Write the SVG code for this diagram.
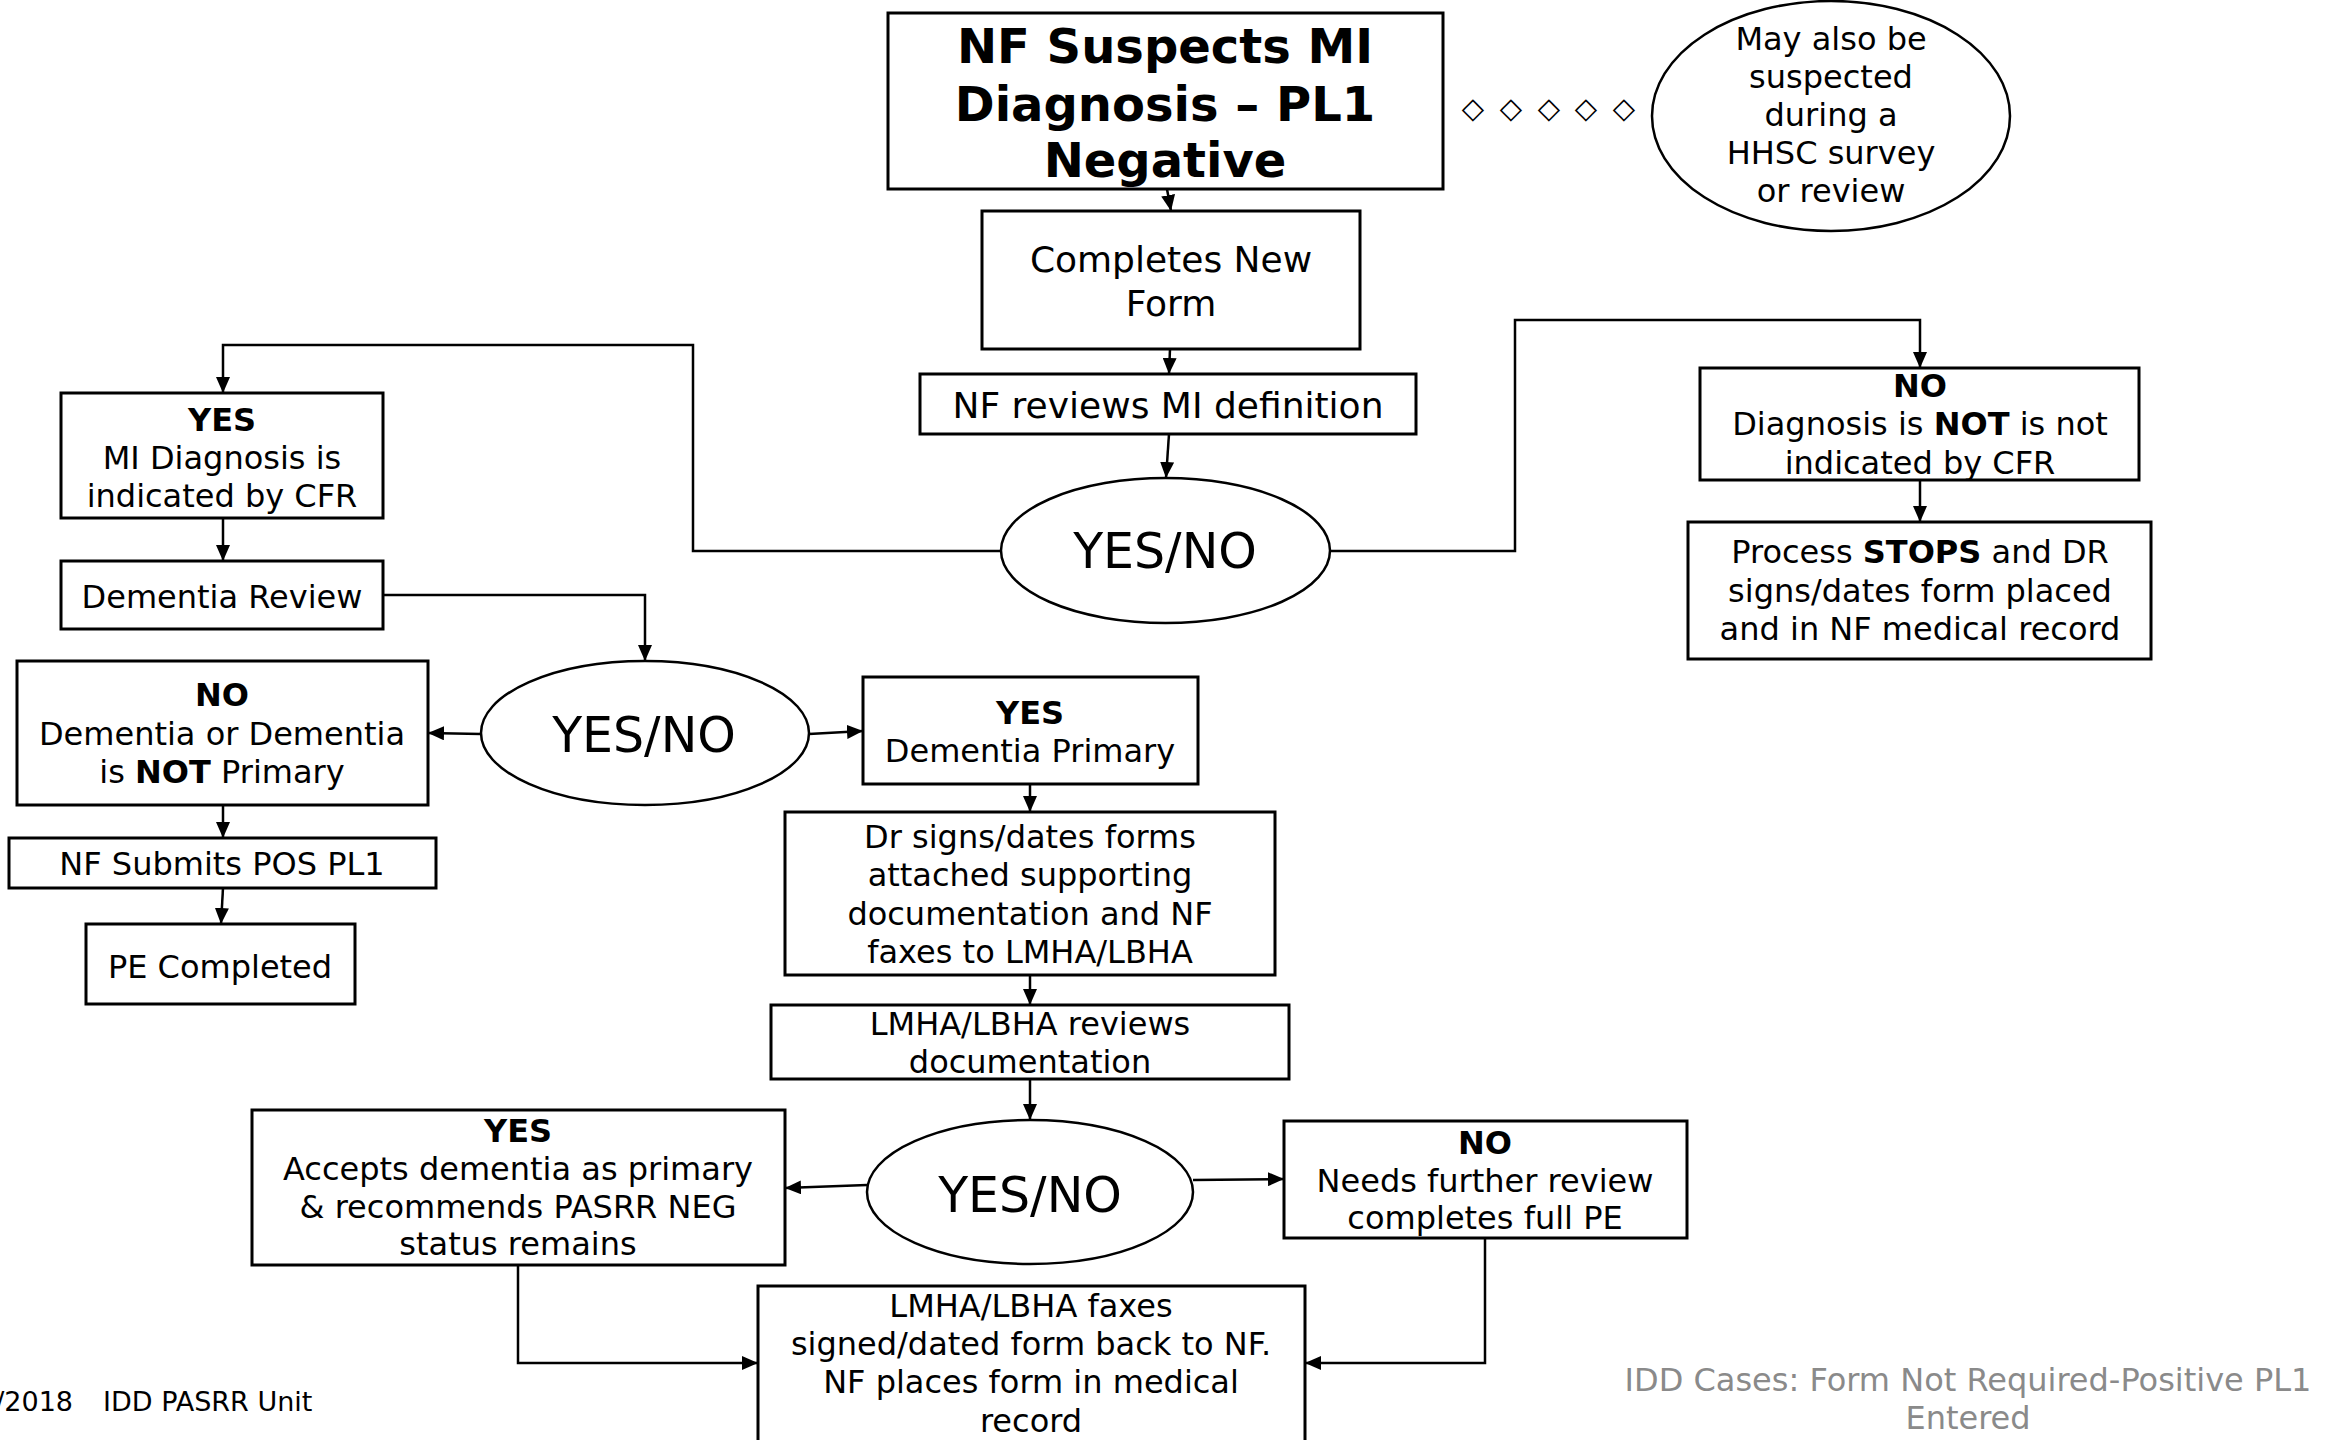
<svg xmlns="http://www.w3.org/2000/svg" width="2328" height="1440" viewBox="0 0 2328 1440">
<style>
text{font-family:"DejaVu Sans",Verdana,sans-serif;fill:#000;text-anchor:middle}
.t{font-size:32px}
.m{font-size:36px}
.yn{font-size:49px}
.b{font-weight:bold}
.box{fill:#fff;stroke:#000;stroke-width:3}
.el{fill:#fff;stroke:#000;stroke-width:2.5}
.c{fill:none;stroke:#000;stroke-width:2.5}
.ft{font-size:32px;fill:#8a8a8a}
</style>
<defs>
<marker id="ah" markerWidth="16" markerHeight="14" refX="16" refY="7" orient="auto" markerUnits="userSpaceOnUse"><path d="M0,0 L16,7 L0,14 z" fill="#000"/></marker>
</defs>
<rect width="2328" height="1440" fill="#fff"/>

<g id="connectors">
<path class="c" d="M1167,189 L1171,211" marker-end="url(#ah)"/>
<path class="c" d="M1170,349 L1169,374" marker-end="url(#ah)"/>
<path class="c" d="M1169,434 L1166,478" marker-end="url(#ah)"/>
<path class="c" d="M1001,551 H693 V345 H223 V393" marker-end="url(#ah)"/>
<path class="c" d="M1330,551 H1515 V320 H1920 V368" marker-end="url(#ah)"/>
<path class="c" d="M1920,480 V522" marker-end="url(#ah)"/>
<path class="c" d="M223,518 V561" marker-end="url(#ah)"/>
<path class="c" d="M383,595 H645 V661" marker-end="url(#ah)"/>
<path class="c" d="M481,734 L428,733" marker-end="url(#ah)"/>
<path class="c" d="M809,734 L863,731" marker-end="url(#ah)"/>
<path class="c" d="M223,805 V838" marker-end="url(#ah)"/>
<path class="c" d="M223,888 L221,924" marker-end="url(#ah)"/>
<path class="c" d="M1030,784 V812" marker-end="url(#ah)"/>
<path class="c" d="M1030,975 V1005" marker-end="url(#ah)"/>
<path class="c" d="M1030,1079 V1120" marker-end="url(#ah)"/>
<path class="c" d="M867,1185 L785,1188" marker-end="url(#ah)"/>
<path class="c" d="M1193,1180 L1284,1179" marker-end="url(#ah)"/>
<path class="c" d="M518,1265 V1363 H758" marker-end="url(#ah)"/>
<path class="c" d="M1485,1238 V1363 H1305" marker-end="url(#ah)"/>
<g id="diamonds" style="font-size:29px">
<text x="1473" y="118">◇</text>
<text x="1511" y="118">◇</text>
<text x="1549" y="118">◇</text>
<text x="1586" y="118">◇</text>
<text x="1624" y="118">◇</text>
</g>
</g>

<g id="n-title">
<rect class="box" x="888" y="13" width="555" height="176"/>
<text class="b" style="font-size:48px" x="1165" y="63">NF Suspects MI</text>
<text class="b" style="font-size:48px" x="1165" y="121">Diagnosis – PL1</text>
<text class="b" style="font-size:48px" x="1165" y="177">Negative</text>
</g>

<g id="n-survey">
<ellipse class="el" cx="1831" cy="116" rx="179" ry="115"/>
<text class="t" x="1831" y="50">May also be</text>
<text class="t" x="1831" y="88">suspected</text>
<text class="t" x="1831" y="126">during a</text>
<text class="t" x="1831" y="164">HHSC survey</text>
<text class="t" x="1831" y="202">or review</text>
</g>

<g id="n-completes">
<rect class="box" x="982" y="211" width="378" height="138"/>
<text class="m" x="1171" y="272">Completes New</text>
<text class="m" x="1171" y="316">Form</text>
</g>

<g id="n-reviews">
<rect class="box" x="920" y="374" width="496" height="60"/>
<text class="m" x="1168" y="418">NF reviews MI definition</text>
</g>

<g id="n-yn1">
<ellipse class="el" cx="1165.5" cy="550.5" rx="164.5" ry="72.5"/>
<text class="yn" x="1165" y="568">YES/NO</text>
</g>

<g id="n-yes-mi">
<rect class="box" x="61" y="393" width="322" height="125"/>
<text class="t b" x="222" y="431">YES</text>
<text class="t" x="222" y="469">MI Diagnosis is</text>
<text class="t" x="222" y="507">indicated by CFR</text>
</g>

<g id="n-dementia-review">
<rect class="box" x="61" y="561" width="322" height="68"/>
<text class="t" x="222" y="608">Dementia Review</text>
</g>

<g id="n-yn2">
<ellipse class="el" cx="645" cy="733" rx="164" ry="72"/>
<text class="yn" x="644" y="752">YES/NO</text>
</g>

<g id="n-no-dementia">
<rect class="box" x="17" y="661" width="411" height="144"/>
<text class="t b" x="222" y="706">NO</text>
<text class="t" x="222" y="745">Dementia or Dementia</text>
<text class="t" x="222" y="783">is <tspan class="b">NOT</tspan> Primary</text>
</g>

<g id="n-submits">
<rect class="box" x="9" y="838" width="427" height="50"/>
<text class="t" x="222" y="875">NF Submits POS PL1</text>
</g>

<g id="n-pe">
<rect class="box" x="86" y="924" width="269" height="80"/>
<text class="t" x="220" y="978">PE Completed</text>
</g>

<g id="n-no-diag">
<rect class="box" x="1700" y="368" width="439" height="112"/>
<text class="t b" x="1920" y="397">NO</text>
<text class="t" x="1920" y="435">Diagnosis is <tspan class="b">NOT</tspan> is not</text>
<text class="t" x="1920" y="474">indicated by CFR</text>
</g>

<g id="n-process">
<rect class="box" x="1688" y="522" width="463" height="137"/>
<text class="t" x="1920" y="563">Process <tspan class="b">STOPS</tspan> and DR</text>
<text class="t" x="1920" y="602">signs/dates form placed</text>
<text class="t" x="1920" y="640">and in NF medical record</text>
</g>

<g id="n-yes-primary">
<rect class="box" x="863" y="677" width="335" height="107"/>
<text class="t b" x="1030" y="724">YES</text>
<text class="t" x="1030" y="762">Dementia Primary</text>
</g>

<g id="n-dr-signs">
<rect class="box" x="785" y="812" width="490" height="163"/>
<text class="t" x="1030" y="848">Dr signs/dates forms</text>
<text class="t" x="1030" y="886">attached supporting</text>
<text class="t" x="1030" y="925">documentation and NF</text>
<text class="t" x="1030" y="963">faxes to LMHA/LBHA</text>
</g>

<g id="n-lmha-reviews">
<rect class="box" x="771" y="1005" width="518" height="74"/>
<text class="t" x="1030" y="1035">LMHA/LBHA reviews</text>
<text class="t" x="1030" y="1073">documentation</text>
</g>

<g id="n-yn3">
<ellipse class="el" cx="1030" cy="1192" rx="163" ry="72"/>
<text class="yn" x="1030" y="1212">YES/NO</text>
</g>

<g id="n-yes-accepts">
<rect class="box" x="252" y="1110" width="533" height="155"/>
<text class="t b" x="518" y="1142">YES</text>
<text class="t" x="518" y="1180">Accepts dementia as primary</text>
<text class="t" x="518" y="1218">&amp; recommends PASRR NEG</text>
<text class="t" x="518" y="1255">status remains</text>
</g>

<g id="n-no-needs">
<rect class="box" x="1284" y="1121" width="403" height="117"/>
<text class="t b" x="1485" y="1154">NO</text>
<text class="t" x="1485" y="1192">Needs further review</text>
<text class="t" x="1485" y="1229">completes full PE</text>
</g>

<g id="n-lmha-faxes">
<rect class="box" x="758" y="1286" width="547" height="160"/>
<text class="t" x="1031" y="1317">LMHA/LBHA faxes</text>
<text class="t" x="1031" y="1355">signed/dated form back to NF.</text>
<text class="t" x="1031" y="1393">NF places form in medical</text>
<text class="t" x="1031" y="1432">record</text>
</g>

<g id="footer">
<text style="font-size:27px;text-anchor:end" x="73" y="1411">/2018</text>
<text style="font-size:27px;text-anchor:start" x="103" y="1411">IDD PASRR Unit</text>
<text class="ft" x="1968" y="1391">IDD Cases: Form Not Required-Positive PL1</text>
<text class="ft" x="1968" y="1429">Entered</text>
</g>
</svg>
